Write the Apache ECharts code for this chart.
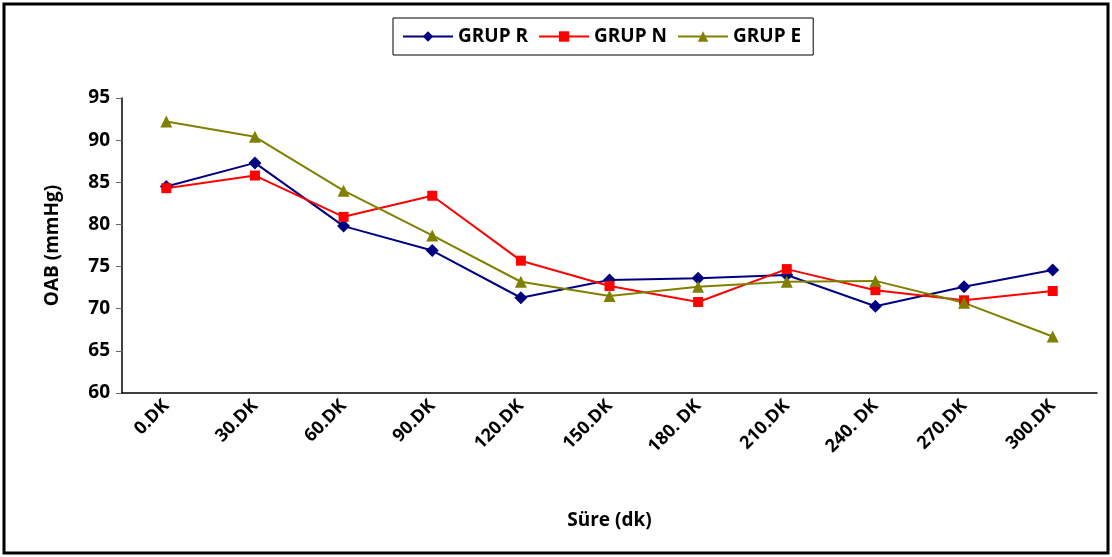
<!DOCTYPE html>
<html>
<head>
<meta charset="utf-8">
<script src="https://cdn.jsdelivr.net/npm/echarts@6/dist/echarts.min.js"></script>
<style>
  html, body { margin: 0; padding: 0; background: #fff; }
  #chart { width: 1112px; height: 557px; }
</style>
</head>
<body>
<div id="chart"></div>
<script>
var categories = ['0.DK', '30.DK', '60.DK', '90.DK', '120.DK', '150.DK', '180. DK', '210.DK', '240. DK', '270.DK', '300.DK'];
var grupR = [84.5, 87.3, 79.8, 76.9, 71.3, 73.4, 73.6, 74.0, 70.3, 72.6, 74.6];
var grupN = [84.3, 85.8, 80.9, 83.4, 75.7, 72.7, 70.8, 74.7, 72.2, 71.0, 72.1];
var grupE = [92.2, 90.4, 84.0, 78.7, 73.2, 71.5, 72.6, 73.2, 73.3, 70.7, 66.7];

var font = '"Open Sans", "Noto Sans", sans-serif';
var chart = echarts.init(document.getElementById('chart'));

function line(name, data, color, symbol, size) {
    return {
        name: name,
        type: 'line',
        data: data,
        symbol: symbol,
        symbolSize: size,
        showSymbol: true,
        lineStyle: { color: color, width: 2 },
        itemStyle: { color: color },
        animation: false
    };
}

chart.setOption({
    backgroundColor: '#fff',
    graphic: [
        {
            type: 'rect',
            shape: { x: 4, y: 4, width: 1104, height: 549 },
            style: { fill: 'none', stroke: '#000', lineWidth: 3 },
            z: -1
        }
    ],
    legend: {
        top: 18,
        left: 393,
        itemWidth: 50,
        itemHeight: 13,
        itemGap: 10,
        padding: [9, 12, 9, 9],
        borderColor: '#000',
        borderWidth: 1,
        backgroundColor: '#fff',
        textStyle: { fontFamily: font, fontWeight: 'bold', fontSize: 19, color: '#000' },
        data: ['GRUP R', 'GRUP N', 'GRUP E']
    },
    grid: {
        left: 122,
        right: 15,
        top: 98,
        bottom: 164
    },
    xAxis: {
        type: 'category',
        data: categories,
        boundaryGap: true,
        name: 'Süre (dk)',
        nameLocation: 'middle',
        nameGap: 118,
        nameTextStyle: { fontFamily: font, fontWeight: 'bold', fontSize: 19, color: '#000' },
        axisLine: { lineStyle: { color: '#000', width: 1.5 } },
        axisTick: { length: 6, lineStyle: { color: '#000' } },
        axisLabel: {
            rotate: 45,
            interval: 0,
            margin: 10,
            fontFamily: font,
            fontWeight: 'bold',
            fontSize: 18,
            color: '#000'
        }
    },
    yAxis: {
        type: 'value',
        min: 60,
        max: 95,
        interval: 5,
        name: 'OAB (mmHg)',
        nameLocation: 'middle',
        nameGap: 60,
        nameTextStyle: { fontFamily: font, fontWeight: 'bold', fontSize: 19, color: '#000' },
        axisLine: { show: true, lineStyle: { color: '#000', width: 1.5 } },
        axisTick: { show: true, length: 6, lineStyle: { color: '#666' } },
        splitLine: { show: false },
        axisLabel: {
            margin: 12,
            fontFamily: font,
            fontWeight: 'bold',
            fontSize: 19,
            color: '#000'
        }
    },
    series: [
        line('GRUP R', grupR, '#000080', 'diamond', 13),
        line('GRUP N', grupN, '#ff0000', 'rect', 10),
        line('GRUP E', grupE, '#808000', 'triangle', 12)
    ]
});
</script>
</body>
</html>
